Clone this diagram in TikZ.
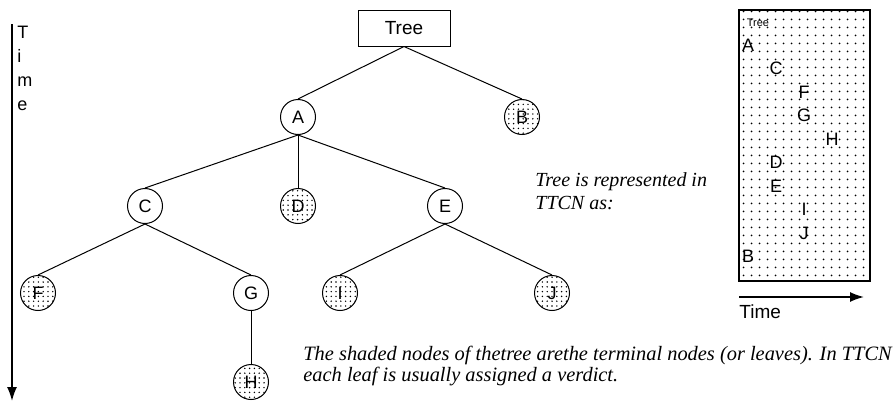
\documentclass[tikz,border=0pt]{standalone}
\usepackage{fontspec}
\setmainfont{Liberation Serif}
\setsansfont{Liberation Sans}
\usetikzlibrary{arrows.meta,patterns.meta}

\begin{document}
\begin{tikzpicture}[x=0.5pt,y=-0.5pt,
		vertex/.style={circle,draw,line width=0.5pt,minimum size=17.5pt,inner sep=0pt,font=\sffamily\fontsize{9}{9}\selectfont},
		leaf/.style={vertex,pattern={Dots[distance=2.4pt,radius=0.4pt]}},
		treebox/.style={draw,line width=0.5pt,minimum width=46pt,minimum height=18pt,inner sep=0pt,font=\sffamily\fontsize{9.5}{9.5}\selectfont},
		letter/.style={inner sep=0pt,font=\sffamily\fontsize{9}{9}\selectfont},
		remark/.style={inner sep=0pt,align=left,font=\itshape\fontsize{10}{11.5}\selectfont},
		timeline/.style={line width=0.8pt,-{Latex[length=7pt,width=5pt]}}]
		\useasboundingbox (0,0) rectangle (894,402);
		
		%time axis
		\coordinate (tstart) at (12,24);
		\coordinate (tend) at (12,401);
		\draw[timeline] (tstart) -- (tend);
		\foreach \ch [count=\k] in {T,i,m,e}
			\node[letter,anchor=base west] (time\k) at (17,14+24*\k) {\ch};
		
		%tree nodes
		\node[treebox] (tree) at (404,28) {Tree};
		\node[vertex] (A) at (298,117) {A};
		\node[leaf] (B) at (522,117) {B};
		\node[vertex] (C) at (145,206) {C};
		\node[leaf] (D) at (298,206) {D};
		\node[vertex] (E) at (445,206) {E};
		\node[leaf] (F) at (38,293) {F};
		\node[vertex] (G) at (251,293) {G};
		\node[leaf] (I) at (340,293) {I};
		\node[leaf] (J) at (552,293) {J};
		\node[leaf] (H) at (251,382) {H};
		
		%edges
		\foreach \p/\c in {tree/A,tree/B,A/C,A/D,A/E,C/F,C/G,E/I,E/J,G/H}
			\draw[line width=0.5pt] (\p.south) -- (\c.north);
		
		%ttcn box
		\draw[line width=1pt,pattern={Dots[distance=4pt,radius=0.55pt]}] (739,10) rectangle (870,281);
		\node[letter,font=\sffamily\fontsize{5.5}{6}\selectfont] (ttree) at (758,23) {Tree};
		\foreach \n/\d [count=\k] in {A/1,C/2,F/3,G/3,H/4,D/2,E/2,I/3,J/3,B/1}
			\node[letter] (t\n) at (720+28*\d,21.5+23.5*\k) {\n};
		
		%time arrow
		\coordinate (hstart) at (739,297);
		\coordinate (hend) at (864,297);
		\draw[timeline] (hstart) -- (hend);
		\node[letter,anchor=base west,font=\sffamily\fontsize{9.5}{9.5}\selectfont] (htime) at (739,318) {Time};
		
		%remarks
		\node[remark,anchor=north west] (note) at (535,172) {Tree is represented in\\TTCN as:};
		\node[remark,anchor=north west,font=\itshape\fontsize{10.2}{9}\selectfont] (caption) at (303,346) {The shaded nodes of thetree arethe terminal nodes (or leaves). In TTCN\\each leaf is usually assigned a verdict.};
\end{tikzpicture}
\end{document}
